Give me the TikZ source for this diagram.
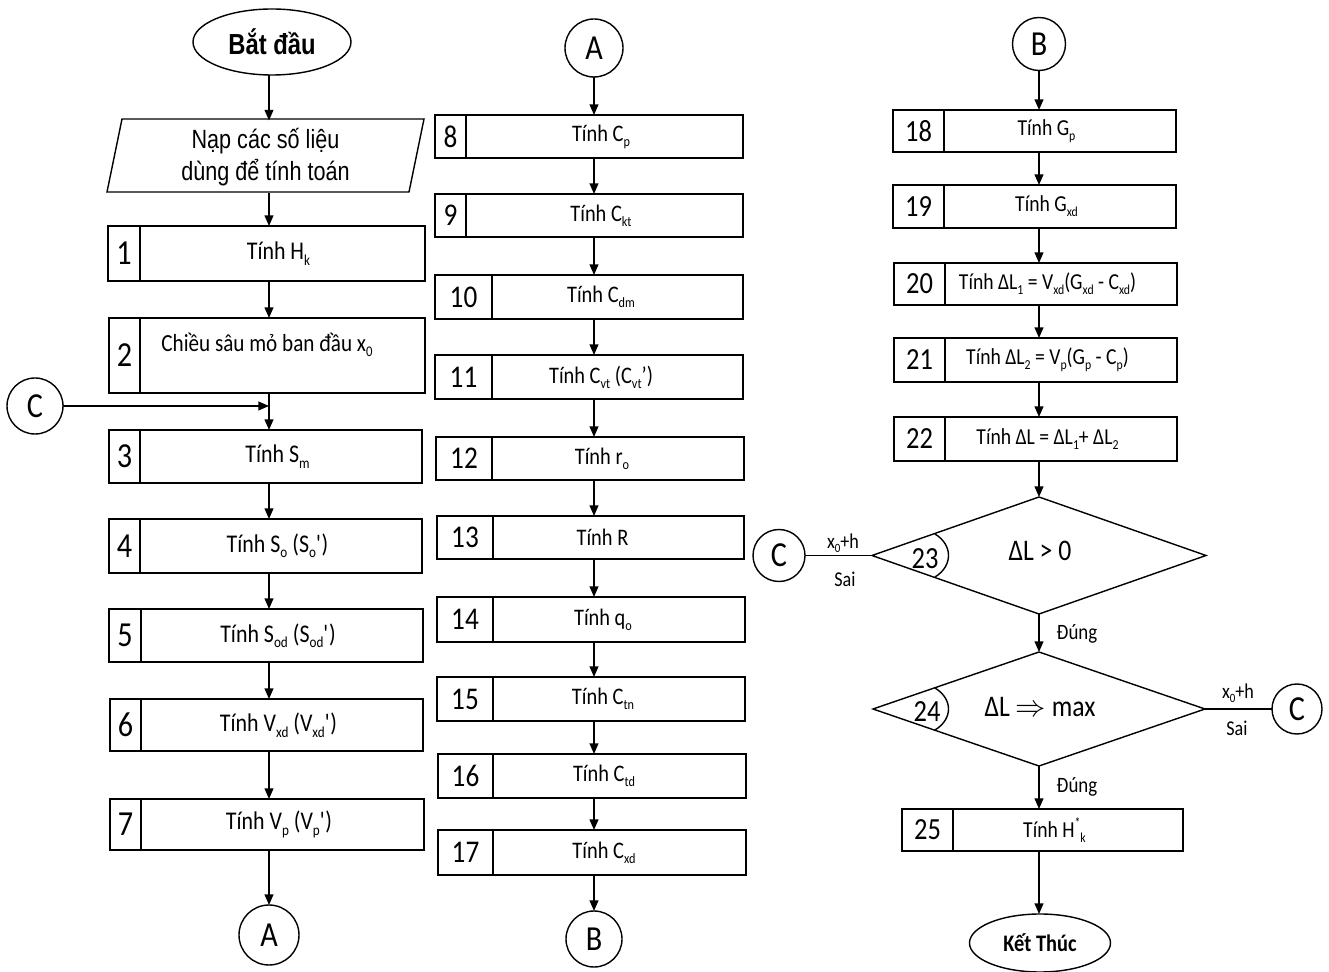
\documentclass[tikz,border=0pt]{standalone}
\usepackage{fontspec}
\setmainfont{Carlito}
\newfontfamily\tallfont[FakeStretch=0.86]{Carlito}
\newfontfamily\narrowsans[FakeStretch=0.82]{Liberation Sans}
\usetikzlibrary{arrows.meta,shapes.geometric}
\newcommand\lo[1]{\raisebox{-0.45ex}{\scalebox{0.6}{#1}}}
\newcommand\hi[1]{\raisebox{0.9ex}{\scalebox{0.6}{#1}}}
\newcommand\flowbox[8]{%
  \node[pb, minimum width={(#3-#2)*0.02cm}, minimum height={(#5-#4)*0.02cm}] (#1) at ({(#2+#3)/2},{(#4+#5)/2}) {};
  \draw[ln] (#6,#4) -- (#6,#5);
  \node[numtxt] (#1n) at ({(#2+#6)/2},{(#4+#5)/2}) {#7};
  \node[bodytxt] (#1t) at ({(#2+#3)/2+12},{(#4+#5)/2}) {#8};
}
\tikzset{
  pb/.style={draw, line width=0.8pt, inner sep=0pt, outer sep=0pt},
  ln/.style={draw, line width=0.8pt},
  arr/.style={draw, line width=0.8pt, -{Triangle[length=6pt,width=5pt]}},
  conn/.style={draw, circle, line width=0.8pt, inner sep=0pt, outer sep=0pt, font=\tallfont\fontsize{20}{22}\selectfont},
  dec/.style={draw, diamond, line width=0.8pt, inner sep=0pt, outer sep=0pt},
  lbl/.style={inner sep=0pt, font=\tallfont\fontsize{12}{14}\selectfont},
  numtxt/.style={inner sep=0pt, font=\tallfont\fontsize{20}{22}\selectfont},
  bodytxt/.style={inner sep=0pt, font=\tallfont\fontsize{14.5}{16}\selectfont},
}
\begin{document}
\begin{tikzpicture}[x=0.02cm, y=-0.02cm]
\fill[white] (0,0) rectangle (1329,972);
\useasboundingbox (0,0) rectangle (1329,972);
\coordinate (c1x) at (269,0);
\coordinate (c2x) at (594,0);
\coordinate (c3x) at (1039,0);

% ---------- column 1 ----------
\node[draw, ellipse, line width=0.8pt, inner sep=0pt, outer sep=0pt,
      minimum width=158*0.02cm, minimum height=66*0.02cm,
      font=\narrowsans\bfseries\fontsize{16.5}{18}\selectfont] (start) at (272,42) {Bắt đầu};
\draw[ln] (122,119) -- (424,119) -- (409,192) -- (107,192) -- cycle;
\node[inner sep=0pt, outer sep=0pt, minimum width=300*0.02cm, minimum height=73*0.02cm,
      align=center, font=\narrowsans\fontsize{15}{18}\selectfont] (inp) at (265.5,157)
      {Nạp các số liệu\\dùng để tính toán};

\flowbox{b1}{108}{425}{226}{281}{140}{1}{Tính H\lo{k}}
\flowbox{b2}{109}{425}{318}{393}{140}{2}{}
\node[bodytxt, font=\tallfont\fontsize{14}{16}\selectfont] (b2t2) at (267,345) {Chiều sâu mỏ ban đầu x\lo{0}};
\flowbox{b3}{109}{422}{430}{483}{140}{3}{Tính S\lo{m}}
\flowbox{b4}{109}{422}{519}{573}{140}{4}{Tính S\lo{o} (S\lo{o}\textquotesingle)}
\flowbox{b5}{109}{423}{609}{662}{141}{5}{Tính S\lo{od} (S\lo{od}\textquotesingle)}
\flowbox{b6}{110}{423}{699}{751}{141}{6}{Tính V\lo{xd} (V\lo{xd}\textquotesingle)}
\flowbox{b7}{110}{424}{799}{850}{141}{7}{Tính V\lo{p} (V\lo{p}\textquotesingle)}
\node[conn, minimum size=56*0.02cm] (C1) at (35,406) {C};
\node[conn, minimum size=60*0.02cm] (A1) at (269,935) {A};

\draw[arr] (start.south -| c1x) -- (inp.north -| c1x);
\draw[arr] (inp.south -| c1x) -- (b1.north -| c1x);
\draw[arr] (b1.south -| c1x) -- (b2.north -| c1x);
\draw[arr] (b2.south -| c1x) -- (b3.north -| c1x);
\draw[arr] (C1) -- (C1 -| c1x);
\draw[arr] (b3.south -| c1x) -- (b4.north -| c1x);
\draw[arr] (b4.south -| c1x) -- (b5.north -| c1x);
\draw[arr] (b5.south -| c1x) -- (b6.north -| c1x);
\draw[arr] (b6.south -| c1x) -- (b7.north -| c1x);
\draw[arr] (b7.south -| c1x) -- (A1);

% ---------- column 2 ----------
\begin{scope}[numtxt/.style={inner sep=0pt, font=\tallfont\fontsize{18}{20}\selectfont},
              bodytxt/.style={inner sep=0pt, font=\tallfont\fontsize{13.5}{15}\selectfont}]
\node[conn, minimum size=58*0.02cm] (A2) at (594,48) {A};
\flowbox{b8}{435}{743}{115}{158}{466}{8}{Tính C\lo{p}}
\flowbox{b9}{435}{743}{194}{237}{466}{9}{Tính C\lo{kt}}
\flowbox{b10}{435}{743}{275}{319}{492}{10}{Tính C\lo{dm}}
\flowbox{b11}{435}{743}{355}{399}{492}{11}{Tính C\lo{vt} (C\lo{vt}’)}
\flowbox{b12}{436}{744}{437}{480}{492}{12}{Tính r\lo{o}}
\flowbox{b13}{437}{744}{516}{559}{493}{13}{Tính R}
\flowbox{b14}{437}{745}{597}{642}{493}{14}{Tính q\lo{o}}
\flowbox{b15}{437}{745}{677}{721}{493}{15}{Tính C\lo{tn}}
\flowbox{b16}{438}{746}{754}{798}{493}{16}{Tính C\lo{td}}
\flowbox{b17}{438}{746}{830}{875}{493}{17}{Tính C\lo{xd}}
\node[conn, minimum size=56*0.02cm] (B1) at (594,939) {B};
\end{scope}
\draw[arr] (A2) -- (b8.north -| c2x);
\draw[arr] (b8.south -| c2x) -- (b9.north -| c2x);
\draw[arr] (b9.south -| c2x) -- (b10.north -| c2x);
\draw[arr] (b10.south -| c2x) -- (b11.north -| c2x);
\draw[arr] (b11.south -| c2x) -- (b12.north -| c2x);
\draw[arr] (b12.south -| c2x) -- (b13.north -| c2x);
\draw[arr] (b13.south -| c2x) -- (b14.north -| c2x);
\draw[arr] (b14.south -| c2x) -- (b15.north -| c2x);
\draw[arr] (b15.south -| c2x) -- (b16.north -| c2x);
\draw[arr] (b16.south -| c2x) -- (b17.north -| c2x);
\draw[arr] (b17.south -| c2x) -- (B1);

% ---------- column 3 ----------
\begin{scope}[numtxt/.style={inner sep=0pt, font=\tallfont\fontsize{17.5}{19}\selectfont},
              bodytxt/.style={inner sep=0pt, font=\tallfont\fontsize{13}{15}\selectfont}]
\node[conn, minimum size=53*0.02cm] (B2) at (1039,44) {B};
\flowbox{b18}{893}{1176}{110}{152}{944}{18}{Tính G\lo{p}}
\flowbox{b19}{893}{1176}{185}{228}{944}{19}{Tính G\lo{xd}}
\flowbox{b20}{894}{1177}{263}{305}{945}{20}{Tính ΔL\lo{1} = V\lo{xd}(G\lo{xd} - C\lo{xd})}
\flowbox{b21}{894}{1177}{338}{382}{945}{21}{Tính ΔL\lo{2} = V\lo{p}(G\lo{p} - C\lo{p})}
\flowbox{b22}{894}{1177}{417}{461}{945}{22}{Tính ΔL = ΔL\lo{1}+ ΔL\lo{2}}
\flowbox{b25}{902}{1183}{809}{851}{953}{25}{Tính H\hi{*}\lo{k}}
\end{scope}
\node[dec, minimum width=334*0.02cm, minimum height=117*0.02cm] (d23) at (1039,555.5) {};
\node[dec, minimum width=332*0.02cm, minimum height=114*0.02cm] (d24) at (1039,709) {};
\draw[ln] (935,534) .. controls (953,545) and (953,566) .. (935,577);
\draw[ln] (935,688) .. controls (953,699) and (953,719) .. (935,730);
\node[inner sep=0pt, font=\tallfont\fontsize{17.5}{19}\selectfont] (n23) at (925,559) {23};
\node[inner sep=0pt, font=\tallfont\fontsize{17.5}{19}\selectfont] (n24) at (927,712) {24};
\node[inner sep=0pt, font=\tallfont\fontsize{17}{19}\selectfont] (t23) at (1040,551) {ΔL > 0};
\node[inner sep=0pt, font=\tallfont\fontsize{17}{19}\selectfont] (t24) at (1040,707) {ΔL $\Rightarrow$ max};
\node[conn, minimum size=52*0.02cm] (C2) at (779,555.5) {C};
\node[conn, minimum size=50*0.02cm] (C3) at (1297,709) {C};
\node[draw, ellipse, line width=0.8pt, inner sep=0pt, outer sep=0pt,
      minimum width=141*0.02cm, minimum height=58*0.02cm,
      font=\tallfont\bfseries\fontsize{13.5}{15}\selectfont] (stop) at (1040,943) {Kết Thúc};

\draw[arr] (B2) -- (b18.north -| c3x);
\draw[arr] (b18.south -| c3x) -- (b19.north -| c3x);
\draw[arr] (b19.south -| c3x) -- (b20.north -| c3x);
\draw[arr] (b20.south -| c3x) -- (b21.north -| c3x);
\draw[arr] (b21.south -| c3x) -- (b22.north -| c3x);
\draw[arr] (b22.south -| c3x) -- (d23.north);
\draw[arr] (d23.south) -- (d24.north);
\draw[arr] (d24.south) -- (b25.north -| c3x);
\draw[arr] (b25.south -| c3x) -- (stop.north -| c3x);
\draw[ln] (d23.west) -- (C2);
\draw[ln] (d24.east) -- (C3);

\node[lbl] (lx1) at (843,543) {x\lo{0}+h};
\node[lbl] (ls1) at (845,579) {Sai};
\node[lbl] (lx2) at (1238,693) {x\lo{0}+h};
\node[lbl] (ls2) at (1237,728) {Sai};
\node[lbl, font=\tallfont\fontsize{12.5}{14}\selectfont] (ld1) at (1077,634) {Đúng};
\node[lbl, font=\tallfont\fontsize{12.5}{14}\selectfont] (ld2) at (1077,787) {Đúng};
\end{tikzpicture}
\end{document}
